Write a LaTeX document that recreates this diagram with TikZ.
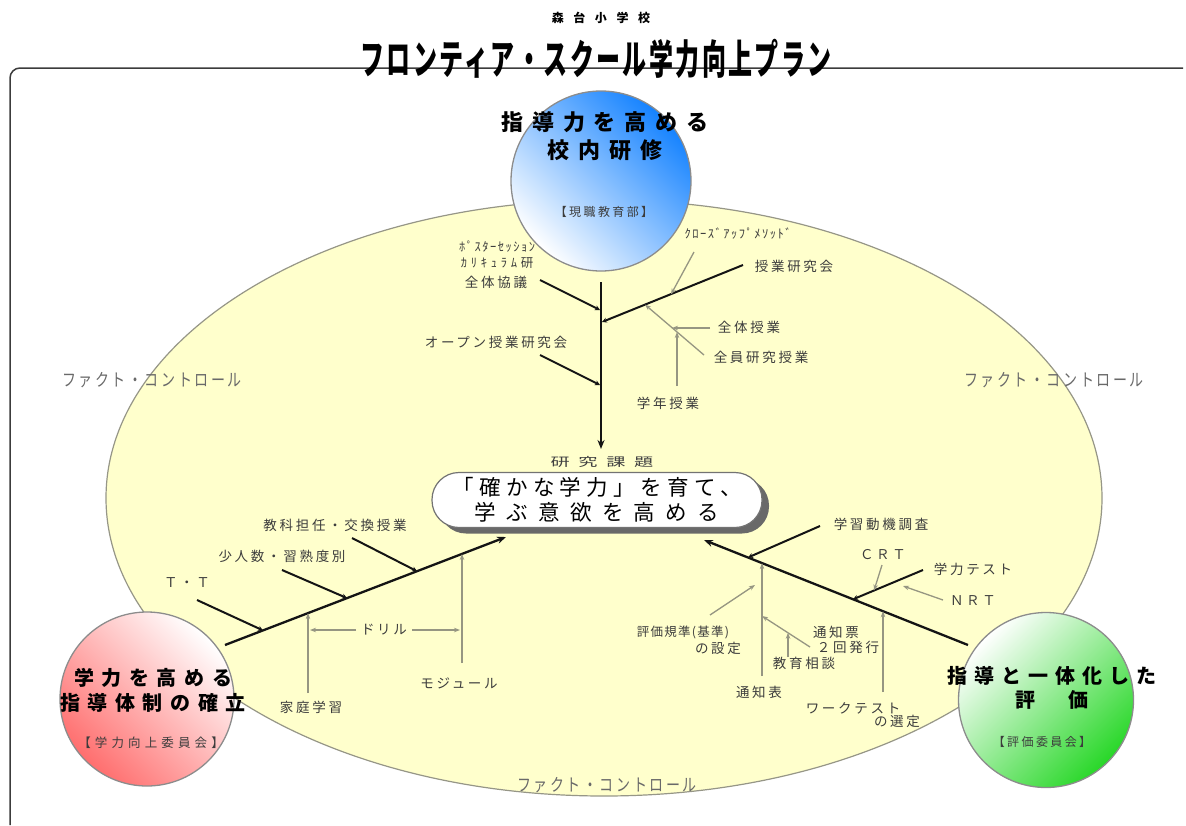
\documentclass[tikz,border=0pt]{standalone}
\usepackage{fontspec}
\newfontfamily\jp{Noto Sans CJK JP}
\usetikzlibrary{arrows.meta,shadows}
\definecolor{ellfill}{RGB}{255,255,204}
\definecolor{ellline}{RGB}{150,150,135}
\definecolor{cline}{RGB}{140,140,140}
\definecolor{dk}{RGB}{20,20,20}
\definecolor{gl}{RGB}{150,150,130}
\definecolor{labc}{RGB}{60,60,60}
\definecolor{factc}{RGB}{105,105,105}
\definecolor{framec}{RGB}{60,60,60}
\definecolor{shadowc}{RGB}{105,105,105}
\definecolor{blueC}{RGB}{20,130,255}
\definecolor{pinkC}{RGB}{255,110,110}
\definecolor{greenC}{RGB}{40,215,40}
\newcommand\lsp[1]{\addfontfeatures{LetterSpace=#1}}
\begin{document}
\begin{tikzpicture}[x=1pt,y=-1pt,
  lab/.style={font=\jp\fontsize{13.5}{15}\selectfont\lsp{20}, text=labc, inner sep=0pt},
  half/.style={font=\jp\fontsize{12.5}{14}\selectfont\lsp{12}, text=labc, inner sep=0pt},
  fc/.style={font=\jp\fontsize{14}{16}\selectfont\lsp{18}, text=factc, inner sep=0pt},
  ctext/.style={text=black, align=center, inner sep=0pt},
  bubble/.style={circle, draw=cline, line width=1.3pt, inner sep=0pt},
  spine/.style={draw=dk, line width=2.3pt, -{Stealth[length=9pt,width=7pt]}},
  br/.style={draw=dk, line width=2pt, -{Stealth[length=5pt,width=5pt]}},
  ga/.style={draw=gl, line width=1.3pt, -{Stealth[length=6pt,width=4.5pt]}},
  frame/.style={draw=framec, line width=1.5pt, rounded corners=10pt}]
\useasboundingbox (0,0) rectangle (1186,825);

% frame
\coordinate (fr1) at (10,825);
\coordinate (fr2) at (10,68);
\coordinate (fr3) at (1183,68);
\draw[frame] (fr1) -- (fr2) -- (fr3);

% title
\node[inner sep=0pt, font=\jp\bfseries\fontsize{12}{14}\selectfont\lsp{80}] (school) at (601,18) {森台小学校};
\node[inner sep=0pt, font=\jp\bfseries\fontsize{24}{28}\selectfont\lsp{10}] (title) at (596,59) {\scalebox{1}[1.7]{フロンティア・スクール学力向上プラン}};

% ellipse
\draw[ellline, line width=1.2pt, fill=ellfill] (604,498) ellipse [x radius=498, y radius=298];

% fact control labels
\node[fc] (fcl) at (152,380) {\scalebox{1}[1.25]{ファクト・コントロール}};
\node[fc] (fcr) at (1054,380) {\scalebox{1}[1.25]{ファクト・コントロール}};
\node[fc] (fcb) at (607,785) {\scalebox{1}[1.25]{ファクト・コントロール}};

% circles
\node[bubble, top color=blueC, bottom color=white, shading angle=-45, minimum size=180pt] (ctop) at (601,181) {};
\node[bubble, top color=white, bottom color=pinkC, shading angle=-45, minimum size=174pt] (cleft) at (147,699) {};
\node[bubble, top color=white, bottom color=greenC, shading angle=45, minimum size=175pt] (cright) at (1046,700) {};

\node[ctext, font=\jp\bfseries\fontsize{22}{28}\selectfont\lsp{40}] (ctopt) at (605,136) {指導力を高める\\校内研修};
\node[ctext, font=\jp\fontsize{12}{13}\selectfont\lsp{20}, text=labc] (ctops) at (604,212) {【現職教育部】};
\node[ctext, font=\jp\bfseries\fontsize{20}{25}\selectfont\lsp{38}] (clt) at (153,690) {学力を高める\\指導体制の確立};
\node[ctext, font=\jp\fontsize{12.5}{13}\selectfont\lsp{33}, text=labc] (cls) at (151,743) {【学力向上委員会】};
\node[ctext, font=\jp\bfseries\fontsize{20}{24}\selectfont\lsp{35}] (crt1) at (1052,688) {指導と一体化した\\評　価};
\node[ctext, font=\jp\fontsize{12}{13}\selectfont\lsp{20}, text=labc] (crs) at (1042,742) {【評価委員会】};

% ---- top spine ----
\coordinate (ts) at (601,282);
\coordinate (te) at (601,449);
\coordinate (b1s) at (540,280);
\coordinate (b1e) at (600,310);
\coordinate (b2s) at (743,265);
\coordinate (b2e) at (602,322);
\coordinate (b3s) at (540,355);
\coordinate (b3e) at (600,385);
\coordinate (g1s) at (694,252);
\coordinate (g1e) at (671,294.4);
\coordinate (g3s) at (704,355);
\coordinate (g3e) at (645,304.6);
\coordinate (g2s) at (710,328);
\coordinate (g2e) at (672,328);
\coordinate (g4s) at (677,386);
\coordinate (g4e) at (677,332);
\draw[spine] (ts) -- (te);
\draw[br] (b1s) -- (b1e);
\draw[br] (b2s) -- (b2e);
\draw[br] (b3s) -- (b3e);
\draw[ga] (g1s) -- (g1e);
\draw[ga] (g3s) -- (g3e);
\draw[ga] (g2s) -- (g2e);
\draw[ga] (g4s) -- (g4e);

\node[half] (pa) at (497,247) {ﾎﾟｽﾀｰｾｯｼｮﾝ};
\node[half, font=\jp\fontsize{12.5}{14}\selectfont\lsp{30}] (pb) at (497,263) {ｶﾘｷｭﾗﾑ研};
\node[lab] (pc) at (496,282) {全体協議};
\node[half] (cu) at (738,234) {ｸﾛｰｽﾞｱｯﾌﾟﾒｿｯﾄﾞ};
\node[lab] (jk) at (794,266) {授業研究会};
\node[lab] (zt) at (749,327) {全体授業};
\node[lab] (zi) at (761,357) {全員研究授業};
\node[lab] (gn) at (668,403) {学年授業};
\node[lab] (op) at (496,342) {オープン授業研究会};

% ---- center box ----
\node[lab, font=\jp\fontsize{12}{14}\selectfont\lsp{45}, text=black!75] (kk) at (602,462) {\scalebox{1.6}[1]{研究課題}};
\node[draw=black!55, line width=1.2pt, fill=white, rounded corners=27pt, minimum width=330pt, minimum height=55pt, inner sep=0pt,
      drop shadow={shadow xshift=7pt, shadow yshift=-6pt, fill=shadowc, opacity=1},
      align=center, font=\jp\fontsize{21.5}{25}\selectfont] (cb) at (597,500)
  {{\lsp{25}「確かな学力」を育て、}\\{\lsp{48}学ぶ意欲を高める}};

% ---- left spine ----
\coordinate (ls) at (225,645);
\coordinate (le) at (506,537);
\coordinate (l1s) at (197,600);
\coordinate (l1e) at (263,630.4);
\coordinate (l2s) at (282,570);
\coordinate (l2e) at (347,598.1);
\coordinate (l3s) at (352,538);
\coordinate (l3e) at (417,571.2);
\coordinate (l4s) at (308,693);
\coordinate (l4e) at (308,613.1);
\coordinate (l5s) at (462,663);
\coordinate (l5e) at (462,553.9);
\coordinate (d1s) at (356,630);
\coordinate (d1e) at (310,630);
\coordinate (d2s) at (412,630);
\coordinate (d2e) at (460,630);
\draw[spine] (ls) -- (le);
\draw[br] (l1s) -- (l1e);
\draw[br] (l2s) -- (l2e);
\draw[br] (l3s) -- (l3e);
\draw[ga] (l4s) -- (l4e);
\draw[ga] (l5s) -- (l5e);
\draw[ga] (d1s) -- (d1e);
\draw[ga] (d2s) -- (d2e);

\node[lab] (kt) at (335,525) {教科担任・交換授業};
\node[lab] (sn) at (282,556) {少人数・習熟度別};
\node[lab] (tt) at (187,583) {Ｔ・Ｔ};
\node[lab] (dr) at (384,630) {ドリル};
\node[lab] (kg) at (311,707) {家庭学習};
\node[lab] (mj) at (459,683) {モジュール};

% ---- right spine ----
\coordinate (rs) at (968,645);
\coordinate (re) at (704,540);
\coordinate (r1s) at (820,526);
\coordinate (r1e) at (748,557.5);
\coordinate (r2s) at (923,570);
\coordinate (r2e) at (853,599.3);
\coordinate (r3s) at (762,676);
\coordinate (r3e) at (762,563.1);
\coordinate (r4s) at (883,692);
\coordinate (r4e) at (883,611.2);
\coordinate (c1s) at (882,565);
\coordinate (c1e) at (874,590.5);
\coordinate (n1s) at (943,600);
\coordinate (n1e) at (903,586);
\coordinate (h1s) at (710,615);
\coordinate (h1e) at (755,585);
\coordinate (t1s) at (810,647);
\coordinate (t1e) at (762,616);
\coordinate (k1s) at (788,657);
\coordinate (k1e) at (788,632.8);
\draw[spine] (rs) -- (re);
\draw[br] (r1s) -- (r1e);
\draw[br] (r2s) -- (r2e);
\draw[ga] (r3s) -- (r3e);
\draw[ga] (r4s) -- (r4e);
\draw[ga] (c1s) -- (c1e);
\draw[ga] (n1s) -- (n1e);
\draw[ga] (h1s) -- (h1e);
\draw[ga] (t1s) -- (t1e);
\draw[ga] (k1s) -- (k1e);

\node[lab] (gd) at (881,524) {学習動機調査};
\node[lab] (crt) at (883,555) {ＣＲＴ};
\node[lab] (gt) at (973,569) {学力テスト};
\node[lab] (nrt) at (973,601) {ＮＲＴ};
\node[lab, font=\jp\fontsize{12.5}{14}\selectfont\lsp{10}] (hk1) at (683,632) {評価規準(基準)};
\node[lab] (hk2) at (718,648) {の設定};
\node[lab] (tu1) at (836,632) {通知票};
\node[lab] (tu2) at (848,647) {２回発行};
\node[lab] (ks) at (804,663) {教育相談};
\node[lab] (th) at (759,692) {通知表};
\node[lab] (wt1) at (853,708) {ワークテスト};
\node[lab] (wt2) at (897,721) {の選定};
\end{tikzpicture}
\end{document}
